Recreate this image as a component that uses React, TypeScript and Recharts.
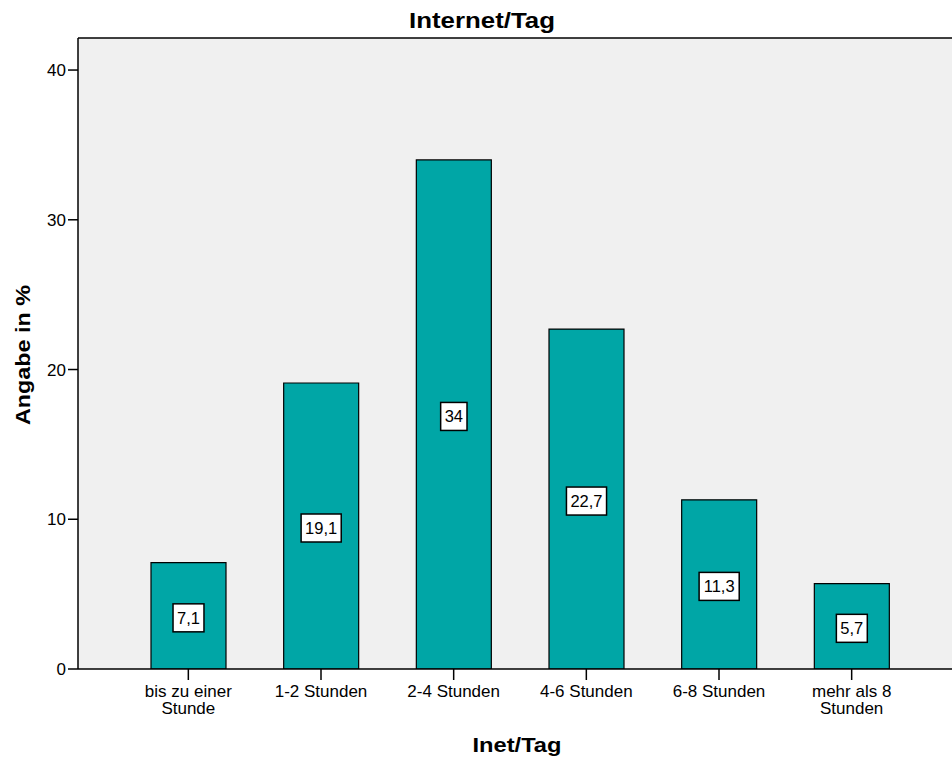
import { BarChart, Bar, XAxis, YAxis, CartesianGrid, LabelList } from "recharts"

// Internet-Nutzung pro Tag, Anteil in Prozent
const categories = [
  "bis zu einer\nStunde",
  "1-2 Stunden",
  "2-4 Stunden",
  "4-6 Stunden",
  "6-8 Stunden",
  "mehr als 8\nStunden",
]
const percentages = [7.1, 19.1, 34, 22.7, 11.3, 5.7]
const yTicks = [0, 10, 20, 30, 40]

const data = categories.map((name, i) => ({ name, value: percentages[i] }))

const FONT = "'Liberation Sans', Arial, Helvetica, sans-serif"
const BAR_FILL = "#00a6a6"
const PLOT_BG = "#f0f0f0"

const formatValue = (v: number) => String(v).replace(".", ",")

// rough Arial advance widths, used to size the label boxes
const textWidth = (s: string, size: number) =>
  s.split("").reduce((w, c) => w + (c === "," || c === "." ? 0.278 : 0.556), 0) * size

function CategoryTick(props: any) {
  const { x, y, payload } = props
  const lines = String(payload.value).split("\n")
  return (
    <g>
      {lines.map((line, i) => (
        <text
          key={i}
          x={x}
          y={y + 12.5 + i * 17}
          textAnchor="middle"
          fontFamily={FONT}
          fontSize={17}
          fill="#000"
        >
          {line}
        </text>
      ))}
    </g>
  )
}

function ValueBox(props: any) {
  const { x, y, width, height, value } = props
  const label = formatValue(value)
  const fs = 16.5
  const w = textWidth(label, fs) + 8
  const h = 28
  const cx = x + width / 2
  const cy = y + height / 2 + 2
  return (
    <g>
      <rect x={cx - w / 2} y={cy - h / 2} width={w} height={h} fill="#fff" stroke="#000" strokeWidth={1.5} />
      <text x={cx} y={cy + 6} textAnchor="middle" fontFamily={FONT} fontSize={fs} fill="#000">
        {label}
      </text>
    </g>
  )
}

// x axis title plus the chart heading above the plot
function XTitles(props: any) {
  const { viewBox } = props
  const cx = viewBox.x + viewBox.width / 2 - 3
  return (
    <g>
      <text
        x={cx}
        y={751.5}
        textAnchor="middle"
        fontFamily={FONT}
        fontWeight="bold"
        fontSize={19.5}
        textLength={89}
        lengthAdjust="spacingAndGlyphs"
        fill="#000"
      >
        Inet/Tag
      </text>
      <text
        x={482}
        y={27.5}
        textAnchor="middle"
        fontFamily={FONT}
        fontWeight="bold"
        fontSize={21.5}
        textLength={146}
        lengthAdjust="spacingAndGlyphs"
        fill="#000"
      >
        Internet/Tag
      </text>
    </g>
  )
}

function YTitle(props: any) {
  const { viewBox } = props
  const cy = viewBox.y + viewBox.height / 2 + 1.5
  const bx = 29.5
  return (
    <text
      x={bx}
      y={cy}
      transform={`rotate(-90 ${bx} ${cy})`}
      textAnchor="middle"
      fontFamily={FONT}
      fontWeight="bold"
      fontSize={19.5}
      textLength={140}
      lengthAdjust="spacingAndGlyphs"
      fill="#000"
    >
      Angabe in %
    </text>
  )
}

export default function App() {
  return (
    <div
      style={{
        position: "absolute",
        left: 0,
        top: 0,
        width: 952,
        height: 758,
        overflow: "hidden",
        background: "#fff",
      }}
    >
      <BarChart
        width={972}
        height={758}
        data={data}
        margin={{ top: 38, right: 10, left: 0, bottom: 0 }}
      >
        <CartesianGrid
          fill={PLOT_BG}
          vertical={false}
          horizontalPoints={[38]}
          stroke="#000"
          strokeWidth={1.5}
        />
        <XAxis
          dataKey="name"
          height={89}
          padding={{ left: 44, right: 44 }}
          tickSize={11}
          tickMargin={4}
          interval={0}
          axisLine={{ stroke: "#000", strokeWidth: 1.5 }}
          tickLine={{ stroke: "#000", strokeWidth: 1.5 }}
          tick={<CategoryTick />}
          label={{ content: <XTitles /> }}
        />
        <YAxis
          width={78}
          domain={[0, 42.14]}
          ticks={yTicks}
          allowDataOverflow
          tickSize={10}
          tickMargin={2}
          axisLine={{ stroke: "#000", strokeWidth: 1.5 }}
          tickLine={{ stroke: "#000", strokeWidth: 1.5 }}
          tick={{ fill: "#000", fontSize: 17, fontFamily: FONT }}
          label={{ content: <YTitle /> }}
        />
        <Bar
          dataKey="value"
          barSize={75}
          fill={BAR_FILL}
          stroke="#000"
          strokeWidth={1.2}
          isAnimationActive={false}
        >
          <LabelList dataKey="value" content={<ValueBox />} />
        </Bar>
      </BarChart>
    </div>
  )
}
